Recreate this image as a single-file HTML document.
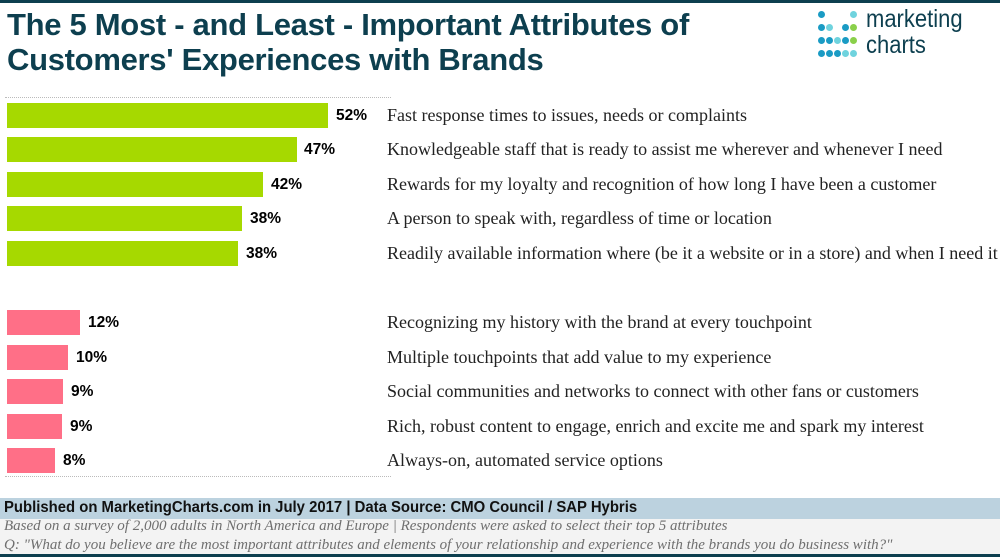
<!DOCTYPE html>
<html><head><meta charset="utf-8"><style>
body{margin:0;width:1000px;height:557px;position:relative;background:#fff;overflow:hidden;font-family:"Liberation Serif",serif}
.t{position:absolute;left:7px;font-family:"Liberation Sans",sans-serif;font-weight:bold;color:#0d3f4f;font-size:31px;letter-spacing:-0.3px;white-space:nowrap}
.bar{position:absolute;left:7px;height:25px}
.g{background:#a6d900}.p{background:#ff6f87}
.v{position:absolute;font-family:"Liberation Sans",sans-serif;font-weight:bold;font-size:15.5px;color:#000}
.l{position:absolute;left:387px;font-size:18px;color:#222;white-space:nowrap}
.dot{position:absolute;width:7px;height:7px;border-radius:50%}
</style></head><body>
<div style="position:absolute;left:0;top:0;width:1000px;height:3px;background:#0d3f4f"></div>
<div class="t" style="top:7px">The 5 Most - and Least - Important Attributes of</div>
<div class="t" style="top:42px">Customers' Experiences with Brands</div>
<div style="position:absolute;left:818px;top:10px;width:60px;height:50px">
<div class="dot" style="left:0;top:1px;background:#1a9bc4"></div><div class="dot" style="left:32px;top:1px;background:#6fd3de"></div>
<div class="dot" style="left:0;top:14px;background:#1a9bc4"></div><div class="dot" style="left:8px;top:14px;background:#6fd3de"></div><div class="dot" style="left:24px;top:14px;background:#1a9bc4"></div><div class="dot" style="left:32px;top:14px;background:#8ad04a"></div>
<div class="dot" style="left:0;top:27px;background:#1a9bc4"></div><div class="dot" style="left:8px;top:27px;background:#1a9bc4"></div><div class="dot" style="left:16px;top:27px;background:#6fd3de"></div><div class="dot" style="left:24px;top:27px;background:#1a9bc4"></div><div class="dot" style="left:32px;top:27px;background:#8ad04a"></div>
<div class="dot" style="left:0;top:40px;background:#1a9bc4"></div><div class="dot" style="left:8px;top:40px;background:#1a9bc4"></div><div class="dot" style="left:16px;top:40px;background:#1a9bc4"></div><div class="dot" style="left:24px;top:40px;background:#6fd3de"></div><div class="dot" style="left:32px;top:40px;background:#6fd3de"></div>
</div>
<div style="position:absolute;left:866px;top:6px;font-family:'Liberation Sans',sans-serif;font-size:25px;line-height:26px;color:#0d3f4f;transform:scaleX(0.88);transform-origin:left">marketing<br>charts</div>
<div style="position:absolute;left:5px;top:97px;width:386px;border-top:1px dotted #bbb"></div>
<div style="position:absolute;left:5px;top:476px;width:386px;border-top:1px dotted #bbb"></div>

<div class="bar g" style="top:103px;width:321px"></div><div class="v" style="left:336px;top:107px">52%</div><div class="l" style="top:105px">Fast response times to issues, needs or complaints</div>
<div class="bar g" style="top:137px;width:290px"></div><div class="v" style="left:304px;top:141px">47%</div><div class="l" style="top:139px">Knowledgeable staff that is ready to assist me wherever and whenever I need</div>
<div class="bar g" style="top:172px;width:256px"></div><div class="v" style="left:271px;top:176px">42%</div><div class="l" style="top:174px">Rewards for my loyalty and recognition of how long I have been a customer</div>
<div class="bar g" style="top:206px;width:235px"></div><div class="v" style="left:250px;top:210px">38%</div><div class="l" style="top:208px">A person to speak with, regardless of time or location</div>
<div class="bar g" style="top:241px;width:231px"></div><div class="v" style="left:246px;top:245px">38%</div><div class="l" style="top:243px">Readily available information where (be it a website or in a store) and when I need it</div>

<div class="bar p" style="top:310px;width:73px"></div><div class="v" style="left:88px;top:314px">12%</div><div class="l" style="top:312px">Recognizing my history with the brand at every touchpoint</div>
<div class="bar p" style="top:345px;width:61px"></div><div class="v" style="left:76px;top:349px">10%</div><div class="l" style="top:347px">Multiple touchpoints that add value to my experience</div>
<div class="bar p" style="top:379px;width:56px"></div><div class="v" style="left:71px;top:383px">9%</div><div class="l" style="top:381px">Social communities and networks to connect with other fans or customers</div>
<div class="bar p" style="top:414px;width:55px"></div><div class="v" style="left:70px;top:418px">9%</div><div class="l" style="top:416px">Rich, robust content to engage, enrich and excite me and spark my interest</div>
<div class="bar p" style="top:448px;width:48px"></div><div class="v" style="left:63px;top:452px">8%</div><div class="l" style="top:450px">Always-on, automated service options</div>

<div style="position:absolute;left:0;top:498px;width:1000px;height:21px;background:#bcd2df"></div>
<div style="position:absolute;left:4px;top:499px;font-family:'Liberation Sans',sans-serif;font-weight:bold;font-size:16px;color:#111;white-space:nowrap;transform:scaleX(0.93);transform-origin:left">Published on MarketingCharts.com in July 2017 | Data Source: CMO Council / SAP Hybris</div>
<div style="position:absolute;left:0;top:519px;width:1000px;height:35px;background:#f3f3f3"></div>
<div style="position:absolute;left:4px;top:517px;font-size:15px;line-height:19px;font-style:italic;color:#6f6f6f;white-space:nowrap">Based on a survey of 2,000 adults in North America and Europe | Respondents were asked to select their top 5 attributes<br>Q: "What do you believe are the most important attributes and elements of your relationship and experience with the brands you do business with?"</div>
<div style="position:absolute;left:0;top:554px;width:1000px;height:3px;background:#0d3f4f"></div>
</body></html>
